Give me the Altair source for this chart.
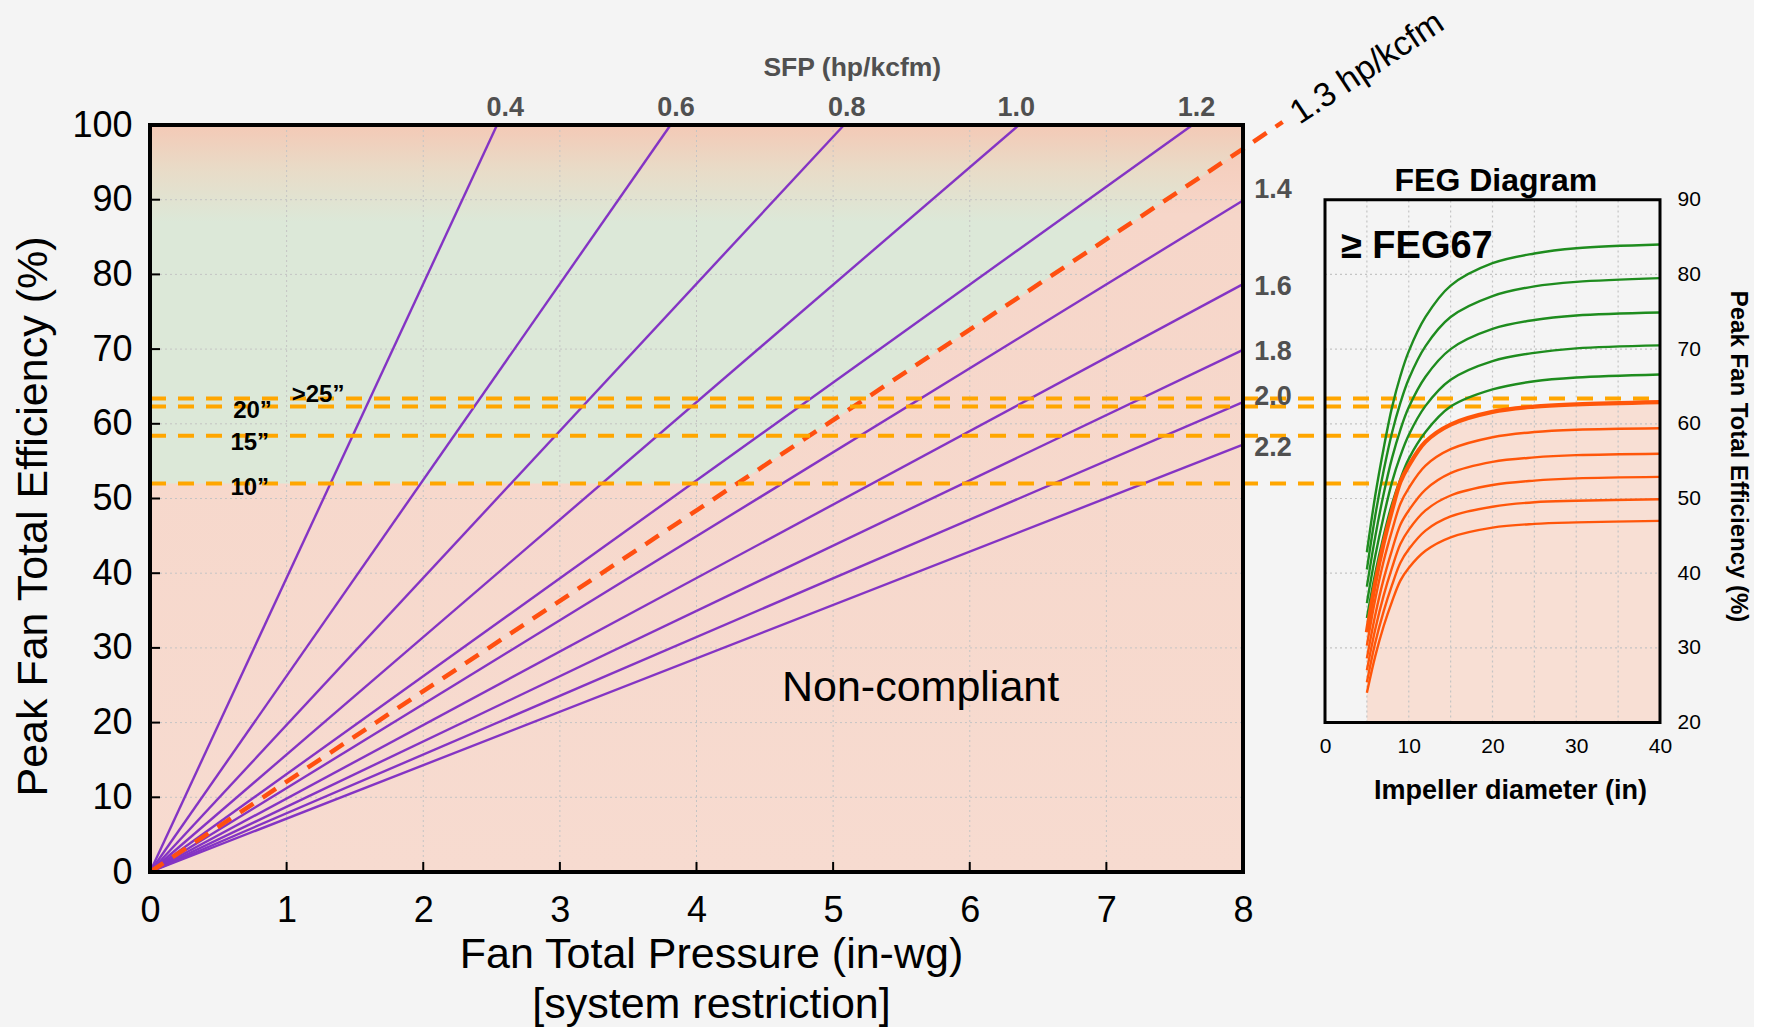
import altair as alt
import pandas as pd

# ---------------- data ----------------
sfp_levels = [0.4, 0.6, 0.8, 1.0, 1.2, 1.4, 1.6, 1.8, 2.0, 2.2]
sfp_end_pressure = [2.54, 3.81, 5.08, 6.36, 7.63, 8.0, 8.0, 8.0, 8.0, 8.0]
sfp_end_eff = [100, 100, 100, 100, 100, 89.9, 78.7, 69.9, 62.9, 57.2]

top_labels = ["0.4", "0.6", "0.8", "1.0", "1.2"]
top_label_pressure = [2.6, 3.85, 5.1, 6.34, 7.66]
right_labels = ["1.4", "1.6", "1.8", "2.0", "2.2"]
right_label_eff = [91.3, 78.3, 69.6, 63.6, 56.8]

limit_pressure = [0.0, 8.0, 8.29]
limit_eff = [0.0, 96.8, 100.4]

size_names = ["10”", "15”", "20”", ">25”"]
size_eff = [52.0, 58.4, 62.3, 63.4]
size_label_pressure = [0.73, 0.73, 0.75, 1.23]
size_label_eff = [51.4, 57.4, 61.7, 63.9]
size_feg_end = [8.7, 12.8, 24.7, 39.0]

zone_pressure = [0.0, 4.30, 8.0]
zone_low = [52.0, 52.0, 96.8]

main_x_ticks = [0, 1, 2, 3, 4, 5, 6, 7, 8]
main_y_ticks = [0, 10, 20, 30, 40, 50, 60, 70, 80, 90, 100]

diameters = [5, 6, 7, 8, 9, 10, 12, 15, 20, 25, 30, 40]
feg_names = ["G1", "G2", "G3", "G4", "G5", "O1", "O2", "O3", "O4", "O5", "O6"]
feg_values = [
    [42.8, 50.4, 56.7, 62.2, 66.4, 69.7, 74.3, 78.5, 81.5, 82.8, 83.5, 84.0],
    [40.5, 47.7, 53.7, 58.8, 62.8, 66.0, 70.4, 74.3, 77.1, 78.4, 79.0, 79.5],
    [38.2, 44.9, 50.6, 55.4, 59.2, 62.2, 66.3, 70.0, 72.7, 73.9, 74.5, 74.9],
    [36.0, 42.3, 47.6, 52.2, 55.7, 58.5, 62.4, 65.9, 68.4, 69.5, 70.1, 70.5],
    [34.0, 40.0, 45.0, 49.3, 52.6, 55.3, 58.9, 62.3, 64.6, 65.7, 66.2, 66.6],
    [32.1, 38.7, 44.0, 48.4, 52.2, 54.4, 57.6, 59.9, 61.6, 62.3, 62.6, 62.9],
    [30.3, 36.5, 41.6, 45.7, 49.3, 51.4, 54.4, 56.6, 58.2, 58.9, 59.2, 59.4],
    [28.6, 34.4, 39.2, 43.1, 46.5, 48.4, 51.2, 53.4, 54.9, 55.5, 55.8, 56.0],
    [27.0, 32.5, 37.0, 40.7, 43.9, 45.8, 48.4, 50.4, 51.8, 52.4, 52.7, 52.9],
    [25.4, 30.7, 34.9, 38.4, 41.4, 43.2, 45.7, 47.6, 48.9, 49.5, 49.7, 49.9],
    [24.0, 28.9, 32.9, 36.2, 39.0, 40.7, 43.0, 44.8, 46.1, 46.6, 46.8, 47.0],
]
feg_boundary = "O1"
feg_x_ticks = [0, 10, 20, 30, 40]
feg_y_ticks = [20, 30, 40, 50, 60, 70, 80, 90]
feg_grid_x = [5, 10, 15, 20, 25, 30, 35]
feg_grid_y = [30, 40, 50, 60, 70, 80]

# ---------------- style / layout ----------------
FONT = "Liberation Sans"
W_MAIN, H_MAIN = 1093, 747
W_FEG = 335
GAP = 82
PURPLE = "#8434c4"
LIMIT = "#ff4f10"
AMBER = "#ffa600"
GREEN = "#1e8c1e"
ORANGE = "#ff560a"
GRID = "#c4c4c4"
CURVE = "catmull-rom"

XM = alt.Scale(domain=[0, 8], nice=False, zero=False)
YM = alt.Scale(domain=[0, 100], nice=False, zero=False)
XF = alt.Scale(domain=[0, 40], nice=False, zero=False)
YF = alt.Scale(domain=[0, 100], nice=False, zero=False)

AXM = alt.Axis(
    values=main_x_ticks, domain=False, ticks=False, grid=False, labelFlush=False,
    labelFontSize=36, labelPadding=21, labelColor="black",
    title=["Fan Total Pressure (in-wg)", "[system restriction]"],
    titleFontSize=43, titleFontWeight="normal", titleColor="black",
    titleX=561, titleY=95, titleBaseline="alphabetic", titleAlign="center",
    titleLineHeight=50)
AYM = alt.Axis(
    values=main_y_ticks, domain=False, ticks=False, grid=False, labelFlush=False,
    labelFontSize=36, labelPadding=18, labelColor="black",
    title="Peak Fan Total Efficiency (%)", titleFontSize=43, titleFontWeight="normal",
    titleColor="black", titleAngle=270, titleX=-117, titleY=391,
    titleBaseline="middle", titleAlign="center")
AXF = alt.Axis(
    orient="bottom", offset=-149, values=feg_x_ticks, domain=False, ticks=False,
    grid=False, labelFlush=False, labelFontSize=21, labelPadding=12, labelColor="black",
    title="Impeller diameter (in)", titleFontSize=27, titleFontWeight="bold",
    titleColor="black", titleX=185, titleY=67, titleBaseline="middle",
    titleAlign="center")
AYF = alt.Axis(
    orient="right", values=feg_y_ticks, domain=False, ticks=False, grid=False,
    labelFlush=False, labelFontSize=21, labelPadding=17, labelColor="black",
    title="Peak Fan Total Efficiency (%)", titleFontSize=24, titleFontWeight="bold",
    titleColor="black", titleAngle=90, titleX=77, titleY=331,
    titleBaseline="middle", titleAlign="center")


def mx(f):
    return alt.X(f, scale=XM, axis=AXM)


def my(f):
    return alt.Y(f, scale=YM, axis=AYM)


def fx(f):
    return alt.X(f, scale=XF, axis=AXF)


def fy(f):
    return alt.Y(f, scale=YF, axis=AYF)


# ---------------- main chart ----------------
bg_df = pd.DataFrame({"x0": [0.0], "x1": [8.0], "y0": [0.0], "y1": [100.0]})
bg = alt.Chart(bg_df).mark_rect(
    fill=alt.Gradient(gradient="linear", x1=0, x2=0, y1=0, y2=1, stops=[
        alt.GradientStop(color="#f4c9b6", offset=0),
        alt.GradientStop(color="#f6d6c9", offset=0.12),
        alt.GradientStop(color="#f7dbd0", offset=1)]),
).encode(x=mx("x0:Q"), x2="x1:Q", y=my("y0:Q"), y2="y1:Q")

zone_df = pd.DataFrame({"x": zone_pressure, "lo": zone_low, "hi": [100.0] * len(zone_low)})
zone = alt.Chart(zone_df).mark_area(
    fill=alt.Gradient(gradient="linear", x1=0, x2=0, y1=0, y2=1, stops=[
        alt.GradientStop(color="#f4c9b6", offset=0),
        alt.GradientStop(color="#e8dcc8", offset=0.13),
        alt.GradientStop(color="#dce8d8", offset=0.27),
        alt.GradientStop(color="#dce8d8", offset=1)]),
).encode(x=mx("x:Q"), y=my("hi:Q"), y2="lo:Q")

gx_df = pd.DataFrame({"x": main_x_ticks[1:-1]})
gx_df["y0"] = 0.0
gx_df["y1"] = 100.0
gx = alt.Chart(gx_df).mark_rule(color=GRID, strokeWidth=1, strokeDash=[2, 3]).encode(
    x=mx("x:Q"), y=my("y0:Q"), y2="y1:Q")

gy_df = pd.DataFrame({"y": main_y_ticks[1:-1]})
gy_df["x0"] = 0.0
gy_df["x1"] = 8.0
gy = alt.Chart(gy_df).mark_rule(color=GRID, strokeWidth=1, strokeDash=[2, 3]).encode(
    y=my("y:Q"), x=mx("x0:Q"), x2="x1:Q")

tick_b = alt.Chart(pd.DataFrame({"x": main_x_ticks[1:-1]})).mark_rule(
    color="black", strokeWidth=2
).encode(x=mx("x:Q"), y=alt.value(H_MAIN), y2=alt.value(H_MAIN - 10))
tick_l = alt.Chart(pd.DataFrame({"y": main_y_ticks[1:-1]})).mark_rule(
    color="black", strokeWidth=2
).encode(y=my("y:Q"), x=alt.value(0), x2=alt.value(10))

sfp_rows = []
for s, ex, ey in zip(sfp_levels, sfp_end_pressure, sfp_end_eff):
    sfp_rows.append({"sfp": str(s), "x": 0.0, "y": 0.0, "o": 0})
    sfp_rows.append({"sfp": str(s), "x": ex, "y": ey, "o": 1})
sfp_lines = alt.Chart(pd.DataFrame(sfp_rows)).mark_line(
    color=PURPLE, strokeWidth=2.4, clip=False
).encode(x=mx("x:Q"), y=my("y:Q"), detail="sfp:N", order="o:Q")

size_df = pd.DataFrame({"y": size_eff})
size_df["x0"] = 0.0
size_lines = alt.Chart(size_df).mark_rule(
    color=AMBER, strokeWidth=4, strokeDash=[16, 12], clip=False
).encode(y=my("y:Q"), x=mx("x0:Q"), x2=alt.value(W_MAIN + GAP))

limit_df = pd.DataFrame({"x": limit_pressure, "y": limit_eff})
limit_line = alt.Chart(limit_df).mark_line(
    color=LIMIT, strokeWidth=4.5, strokeDash=[16, 11], clip=False
).encode(x=mx("x:Q"), y=my("y:Q"))

border = alt.Chart(bg_df).mark_rect(fillOpacity=0, stroke="black", strokeWidth=4).encode(
    x=mx("x0:Q"), x2="x1:Q", y=my("y0:Q"), y2="y1:Q")

top_df = pd.DataFrame({"t": top_labels, "x": top_label_pressure})
top_df["y"] = 100.0
top_txt = alt.Chart(top_df).mark_text(
    font=FONT, fontSize=27, fontWeight="bold", color="#505050", dy=-17, baseline="middle"
).encode(x=mx("x:Q"), y=my("y:Q"), text="t:N")

right_df = pd.DataFrame({"t": right_labels, "y": right_label_eff})
right_df["x"] = 8.22
right_txt = alt.Chart(right_df).mark_text(
    font=FONT, fontSize=27, fontWeight="bold", color="#505050", baseline="middle"
).encode(x=mx("x:Q"), y=my("y:Q"), text="t:N")

sfp_title = alt.Chart(pd.DataFrame({"t": ["SFP (hp/kcfm)"], "x": [5.14], "y": [107.6]})).mark_text(
    font=FONT, fontSize=26.5, fontWeight="bold", color="#505050", baseline="middle"
).encode(x=mx("x:Q"), y=my("y:Q"), text="t:N")

limit_txt = alt.Chart(pd.DataFrame({"t": ["1.3 hp/kcfm"], "x": [8.91], "y": [107.6]})).mark_text(
    font=FONT, fontSize=34, color="black", baseline="middle", angle=326.5
).encode(x=mx("x:Q"), y=my("y:Q"), text="t:N")

nc_txt = alt.Chart(pd.DataFrame({"t": ["Non-compliant"], "x": [5.64], "y": [24.6]})).mark_text(
    font=FONT, fontSize=43, color="black", baseline="middle"
).encode(x=mx("x:Q"), y=my("y:Q"), text="t:N")

size_txt_df = pd.DataFrame({"t": size_names, "x": size_label_pressure, "y": size_label_eff})
size_txt = alt.Chart(size_txt_df).mark_text(
    font=FONT, fontSize=24, fontWeight="bold", color="black", baseline="middle"
).encode(x=mx("x:Q"), y=my("y:Q"), text="t:N")

main = alt.layer(
    bg, zone, gx, gy, sfp_lines, limit_line, size_lines, tick_b, tick_l, border,
    top_txt, right_txt, sfp_title, limit_txt, nc_txt, size_txt
).properties(width=W_MAIN, height=H_MAIN)

# ---------------- FEG chart ----------------
rows = []
for name, vals in zip(feg_names, feg_values):
    for d, v in zip(diameters, vals):
        rows.append({"curve": name, "d": d, "eff": v,
                     "w": 4.2 if name == feg_boundary else 2.4})
feg_df = pd.DataFrame(rows)
bound_df = feg_df[feg_df["curve"] == feg_boundary].copy()
bound_df["base"] = 20.0

frame_df = pd.DataFrame({"x0": [0.0], "x1": [40.0], "y0": [20.0], "y1": [90.0]})

pink = alt.Chart(bound_df).mark_area(color="#f8dfd4", interpolate=CURVE).encode(
    x=fx("d:Q"), y=fy("eff:Q"), y2="base:Q")

fgx_df = pd.DataFrame({"x": feg_grid_x})
fgx_df["y0"] = 20.0
fgx_df["y1"] = 90.0
fgx = alt.Chart(fgx_df).mark_rule(color=GRID, strokeWidth=1.2, strokeDash=[2, 3]).encode(
    x=fx("x:Q"), y=fy("y0:Q"), y2="y1:Q")

fgy_df = pd.DataFrame({"y": feg_grid_y})
fgy_df["x0"] = 0.0
fgy_df["x1"] = 40.0
fgy = alt.Chart(fgy_df).mark_rule(color=GRID, strokeWidth=1.2, strokeDash=[2, 3]).encode(
    y=fy("y:Q"), x=fx("x0:Q"), x2="x1:Q")

feg_dash_df = pd.DataFrame({"y": size_eff, "xe": size_feg_end})
feg_dash_df["x0"] = 0.0
feg_dash = alt.Chart(feg_dash_df).mark_rule(
    color=AMBER, strokeWidth=4, strokeDash=[16, 12]
).encode(y=fy("y:Q"), x=fx("x0:Q"), x2="xe:Q")

curves = alt.Chart(feg_df).mark_line(interpolate=CURVE).encode(
    x=fx("d:Q"),
    y=fy("eff:Q"),
    color=alt.Color("curve:N", legend=None, scale=alt.Scale(
        domain=feg_names, range=[GREEN] * 5 + [ORANGE] * 6)),
    strokeWidth=alt.StrokeWidth("w:Q", scale=None),
    detail="curve:N",
)

frame = alt.Chart(frame_df).mark_rect(fillOpacity=0, stroke="black", strokeWidth=3).encode(
    x=fx("x0:Q"), x2="x1:Q", y=fy("y0:Q"), y2="y1:Q")

feg_title = alt.Chart(pd.DataFrame({"t": ["FEG Diagram"], "x": [20.4], "y": [92.5]})).mark_text(
    font=FONT, fontSize=32, fontWeight="bold", color="black", baseline="middle"
).encode(x=fx("x:Q"), y=fy("y:Q"), text="t:N")

feg_tag = alt.Chart(pd.DataFrame({"t": ["≥ FEG67"], "x": [1.9], "y": [83.7]})).mark_text(
    font=FONT, fontSize=38, fontWeight="bold", color="black", baseline="middle", align="left"
).encode(x=fx("x:Q"), y=fy("y:Q"), text="t:N")

feg = alt.layer(pink, fgx, fgy, feg_dash, curves, frame, feg_title, feg_tag).properties(
    width=W_FEG, height=H_MAIN)

chart = alt.hconcat(main, feg, spacing=GAP, bounds="flush").properties(
    padding={"left": 11, "top": 5, "right": 4, "bottom": 0},
    background="#f4f4f4",
).configure_view(stroke="transparent").configure_axis(
    labelFont=FONT, titleFont=FONT
).configure_text(font=FONT)

chart.save("out.html", embed_options={"renderer": "svg", "actions": False})
